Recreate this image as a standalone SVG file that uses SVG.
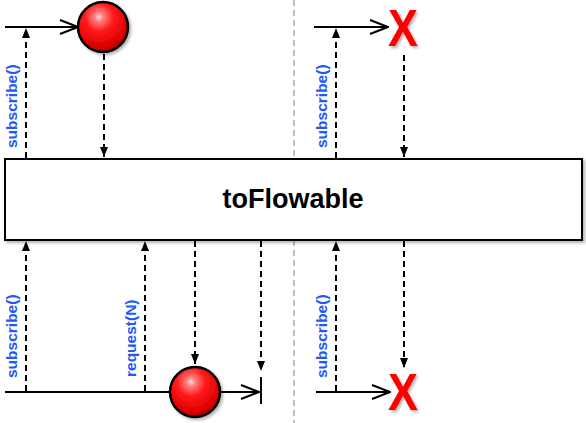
<svg xmlns="http://www.w3.org/2000/svg" width="586" height="423" viewBox="0 0 586 423">
<style>
.solid{stroke:#000;stroke-width:2;fill:none}
.dash{stroke:#000;stroke-width:2;fill:none;stroke-dasharray:6,4}
.lbl{font-family:"Liberation Sans",Arial,sans-serif;font-weight:bold;font-size:15.5px;fill:#2358f5}
.xmark{font-family:"Liberation Sans",Arial,sans-serif;font-weight:bold;font-size:51px;fill:#ff0000}
.ball{fill:url(#ballGrad);stroke:#000;stroke-width:2.5}
</style>
<defs>
<radialGradient id="ballGrad" cx="0.42" cy="0.3" r="0.72">
<stop offset="0" stop-color="#ffe0e0"/>
<stop offset="0.12" stop-color="#ff8080"/>
<stop offset="0.4" stop-color="#ff1a1a"/>
<stop offset="0.8" stop-color="#e00000"/>
<stop offset="1" stop-color="#a80000"/>
</radialGradient>
<filter id="sh" x="-20%" y="-20%" width="150%" height="150%">
<feDropShadow dx="2" dy="2" stdDeviation="1.5" flood-color="#000" flood-opacity="0.3"/>
</filter>
<marker id="fill" viewBox="0 0 10 10" refX="10" refY="5" markerWidth="10" markerHeight="10" markerUnits="userSpaceOnUse" orient="auto">
<path d="M0,1 L10,5 L0,9 Z" fill="#000"/>
</marker>
<marker id="open" viewBox="0 0 20 16" refX="19" refY="8" markerWidth="20" markerHeight="16" markerUnits="userSpaceOnUse" orient="auto">
<path d="M1,1 L19,8 L1,15" fill="none" stroke="#000" stroke-width="2"/>
</marker>
</defs>

<line x1="294" y1="0" x2="294" y2="423" stroke="#aaaaaa" stroke-width="1.5" stroke-dasharray="6,4"/>

<g id="connectors">
<line class="solid" x1="5" y1="27" x2="78" y2="27" marker-end="url(#open)"/>
<line class="dash" x1="26" y1="158" x2="26" y2="28" marker-end="url(#fill)"/>
<line class="dash" x1="104" y1="54" x2="104" y2="157" marker-end="url(#fill)"/>
<line class="solid" x1="314" y1="27" x2="388" y2="27" marker-end="url(#open)"/>
<line class="dash" x1="336" y1="158" x2="336" y2="28" marker-end="url(#fill)"/>
<line class="dash" x1="404" y1="55" x2="404" y2="157" marker-end="url(#fill)"/>
<line class="solid" x1="5" y1="392" x2="259" y2="392" marker-end="url(#open)"/>
<line class="dash" x1="26" y1="391" x2="26" y2="241" marker-end="url(#fill)"/>
<line class="dash" x1="145" y1="391" x2="145" y2="241" marker-end="url(#fill)"/>
<line class="dash" x1="195" y1="241" x2="195" y2="364" marker-end="url(#fill)"/>
<line class="dash" x1="261" y1="241" x2="261" y2="371" marker-end="url(#fill)"/>
<line class="solid" x1="316" y1="392" x2="390" y2="392" marker-end="url(#open)"/>
<line class="dash" x1="336" y1="391" x2="336" y2="241" marker-end="url(#fill)"/>
<line class="dash" x1="404" y1="241" x2="404" y2="368" marker-end="url(#fill)"/>
<text class="lbl" transform="translate(17,148) rotate(-90)">subscribe()</text>
<text class="lbl" transform="translate(327,148) rotate(-90)">subscribe()</text>
<text class="lbl" transform="translate(17,378) rotate(-90)">subscribe()</text>
<text class="lbl" transform="translate(136,377) rotate(-90)">request(N)</text>
<text class="lbl" transform="translate(327,378) rotate(-90)">subscribe()</text>
</g>

<g id="operator">
<rect x="5" y="159" width="577" height="81" fill="#fff" stroke="#000" stroke-width="2" filter="url(#sh)"/>
<text x="293" y="208" text-anchor="middle" font-family="'Liberation Sans',Arial,sans-serif" font-weight="bold" font-size="27" fill="#000">toFlowable</text>
</g>

<g id="item-top">
<circle class="ball" cx="103" cy="27" r="25" filter="url(#sh)"/>
</g>
<g id="error-top">
<text class="xmark" x="403" y="46" text-anchor="middle" transform="translate(403,0) scale(0.88,1) translate(-403,0)" filter="url(#sh)">X</text>
</g>
<g id="item-bottom">
<circle class="ball" cx="195" cy="392" r="25" filter="url(#sh)"/>
</g>
<g id="complete-bottom">
<line class="solid" x1="261" y1="377" x2="261" y2="404"/>
</g>
<g id="error-bottom">
<text class="xmark" x="403" y="410" text-anchor="middle" transform="translate(403,0) scale(0.88,1) translate(-403,0)" filter="url(#sh)">X</text>
</g>
</svg>
